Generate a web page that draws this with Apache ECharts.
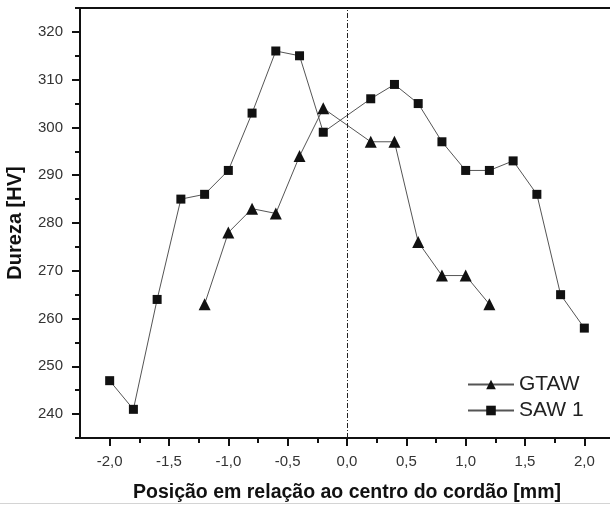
<!DOCTYPE html>
<html><head><meta charset="utf-8">
<script src="https://cdn.jsdelivr.net/npm/echarts@6/dist/echarts.min.js"></script>
<style>html,body{margin:0;padding:0;background:#fff}#c{width:610px;height:506px}</style>
</head><body><div id="c"></div>
<script>
var sawX = [-2.0,-1.8,-1.6,-1.4,-1.2,-1.0,-0.8,-0.6,-0.4,-0.2,0.2,0.4,0.6,0.8,1.0,1.2,1.4,1.6,1.8,2.0];
var sawY = [247,241,264,285,286,291,303,316,315,299,306,309,305,297,291,291,293,286,265,258];
var gtawX = [-1.2,-1.0,-0.8,-0.6,-0.4,-0.2,0.2,0.4,0.6,0.8,1.0,1.2];
var gtawY = [263,278,283,282,294,304,297,297,276,269,269,263];
var xMajor = [-2.0,-1.5,-1.0,-0.5,0.0,0.5,1.0,1.5,2.0];
var xMinor = [-1.75,-1.25,-0.75,-0.25,0.25,0.75,1.25,1.75];
var yMajor = [240,250,260,270,280,290,300,310,320];
var yMinor = [235,245,255,265,275,285,295,305,315,325];

var FONT = 'Liberation Sans, Arial, sans-serif';
function pairs(xs, ys){ return xs.map(function(x,i){ return [x, ys[i]]; }); }
var chart = echarts.init(document.getElementById('c'));
var axLine = {show:true, onZero:false, lineStyle:{color:'#111', width:2}};
chart.setOption({
  backgroundColor:'#fff',
  animation:false,
  grid:{left:80, top:8, right:-4, bottom:68, outerBoundsMode:'none', containLabel:false},
  legend:{
    orient:'vertical', left:462, top:369, itemGap:5, itemWidth:46, itemHeight:12,
    textStyle:{fontFamily:FONT, fontSize:21, color:'#222'},
    data:['GTAW','SAW 1']
  },
  graphic:[{type:'line', silent:true, shape:{x1:0, y1:503.5, x2:610, y2:503.5},
    style:{stroke:'#d4d4d4', lineWidth:1}}],
  xAxis:[{
    type:'value', min:-2.25, max:2.25, position:'bottom',
    axisLine:axLine, splitLine:{show:false},
    axisTick:{show:true, customValues:xMajor, length:8, lineStyle:{color:'#111', width:2}},
    axisLabel:{customValues:xMajor, margin:16, fontFamily:FONT, fontSize:15, color:'#333',
      formatter:function(v){ return v.toFixed(1).replace('.',','); }},
    name:'Posição em relação ao centro do cordão [mm]', nameLocation:'middle', nameGap:45,
    nameTextStyle:{fontFamily:FONT, fontSize:19.5, fontWeight:'bold', color:'#111'}
  },{
    type:'value', min:-2.25, max:2.25, position:'bottom', offset:0,
    axisLine:{show:false, onZero:false}, splitLine:{show:false},
    axisTick:{show:true, customValues:xMinor, length:5, lineStyle:{color:'#111', width:2}},
    axisLabel:{show:false}
  },{
    type:'value', min:-2.25, max:2.25, position:'top',
    axisLine:axLine, splitLine:{show:false}, axisTick:{show:false}, axisLabel:{show:false}
  }],
  yAxis:[{
    type:'value', min:235, max:325, position:'left',
    axisLine:axLine, splitLine:{show:false},
    axisTick:{show:true, customValues:yMajor, length:8, lineStyle:{color:'#111', width:2}},
    axisLabel:{customValues:yMajor, margin:17, fontFamily:FONT, fontSize:15, color:'#333'},
    name:'Dureza [HV]', nameLocation:'middle', nameGap:55,
    nameTextStyle:{fontFamily:FONT, fontSize:20, fontWeight:'bold', color:'#111'}
  },{
    type:'value', min:235, max:325, position:'left', offset:0,
    axisLine:{show:false, onZero:false}, splitLine:{show:false},
    axisTick:{show:true, customValues:yMinor, length:5, lineStyle:{color:'#111', width:2}},
    axisLabel:{show:false}
  }],
  series:[{
    name:'GTAW', type:'line', data:pairs(gtawX, gtawY),
    symbol:'triangle', symbolSize:12,
    itemStyle:{color:'#111'}, lineStyle:{color:'#555', width:1},
    markLine:{silent:true, symbol:'none', label:{show:false},
      lineStyle:{color:'#222', width:1, type:[5,2,1,2]}, data:[{xAxis:0}]}
  },{
    name:'SAW 1', type:'line', data:pairs(sawX, sawY),
    symbol:'rect', symbolSize:9,
    itemStyle:{color:'#111'}, lineStyle:{color:'#555', width:1}
  }]
});
</script></body></html>
